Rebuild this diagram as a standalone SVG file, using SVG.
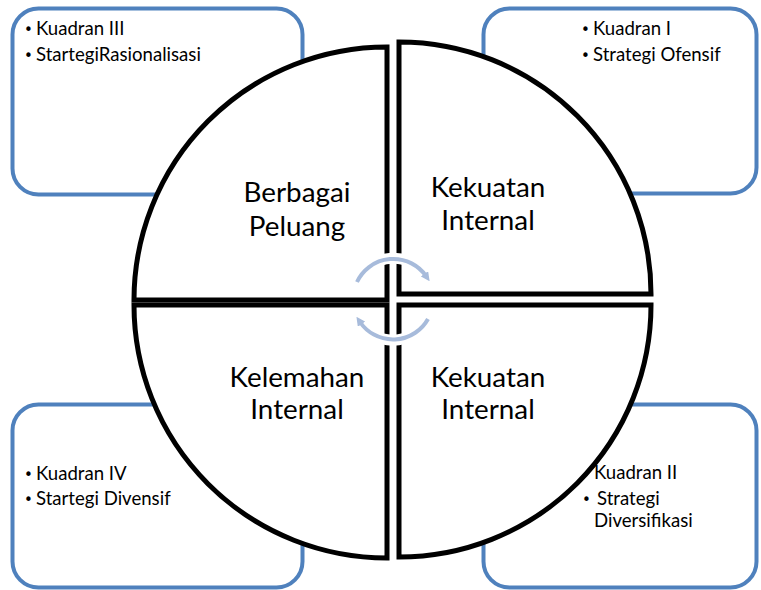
<svg xmlns="http://www.w3.org/2000/svg" width="761" height="590" viewBox="0 0 761 590">
  <defs>
    <style>
      .box { fill: #ffffff; stroke: #4f81bd; stroke-width: 4; }
      .quad { fill: #ffffff; stroke: #000000; stroke-width: 5; stroke-linejoin: miter; }
      .small { font-family: Lato, "Open Sans", sans-serif; font-size: 18.6px; fill: #000000; }
      .dot { font-family: "DejaVu Sans", sans-serif; font-size: 15px; fill: #000000; }
      .big { font-family: Lato, "Open Sans", sans-serif; font-size: 27.8px; fill: #000000; text-anchor: middle; }
      .halo { fill: none; stroke: #ffffff; stroke-width: 11; }
      .cycle { fill: none; stroke: #a7bbdb; stroke-width: 4; }
    </style>
    <marker id="tip" viewBox="0 0 10 10" refX="3" refY="5" markerWidth="9" markerHeight="9" markerUnits="userSpaceOnUse" orient="auto">
      <path d="M0,0 L10,5 L0,10 Z" fill="#a7bbdb"/>
    </marker>
  </defs>
  <rect width="761" height="590" fill="#ffffff"/>

  <!-- outer strategy boxes -->
  <g id="box-kuadran-3">
    <rect class="box" x="12.5" y="8.5" width="290" height="186" rx="26"/>
    <text y="35"><tspan class="dot" x="24">•</tspan><tspan class="small" x="36">Kuadran III</tspan></text>
    <text y="61"><tspan class="dot" x="24">•</tspan><tspan class="small" x="36">StartegiRasionalisasi</tspan></text>
  </g>
  <g id="box-kuadran-1">
    <rect class="box" x="483.5" y="8.5" width="273" height="185" rx="26"/>
    <text y="35"><tspan class="dot" x="581">•</tspan><tspan class="small" x="593">Kuadran I</tspan></text>
    <text y="61"><tspan class="dot" x="581">•</tspan><tspan class="small" x="593">Strategi Ofensif</tspan></text>
  </g>
  <g id="box-kuadran-4">
    <rect class="box" x="12.5" y="404.5" width="290" height="183" rx="26"/>
    <text y="480"><tspan class="dot" x="24">•</tspan><tspan class="small" x="36">Kuadran IV</tspan></text>
    <text y="505"><tspan class="dot" x="24">•</tspan><tspan class="small" x="36">Startegi Divensif</tspan></text>
  </g>
  <g id="box-kuadran-2">
    <rect class="box" x="483.5" y="404.5" width="273" height="183" rx="26"/>
    <text class="small" x="594" y="479">Kuadran II</text>
    <text y="505"><tspan class="dot" x="582">•</tspan><tspan class="small" x="597">Strategi</tspan></text>
    <text class="small" x="594" y="527">Diversifikasi</text>
  </g>

  <!-- circle quadrants -->
  <g id="quad-peluang">
    <path class="quad" d="M387,300 L134,300 A253,253 0 0 1 387,47 Z"/>
    <text class="big" x="297" y="202">Berbagai</text>
    <text class="big" x="297" y="236">Peluang</text>
  </g>
  <g id="quad-kekuatan-atas">
    <path class="quad" d="M399,294 L399,42 A252,252 0 0 1 651,294 Z"/>
    <text class="big" x="488" y="197">Kekuatan</text>
    <text class="big" x="488" y="230">Internal</text>
  </g>
  <g id="quad-kelemahan">
    <path class="quad" d="M387,305 L134,305 A253,253 0 0 0 387,558 Z"/>
    <text class="big" x="297" y="387">Kelemahan</text>
    <text class="big" x="297" y="419">Internal</text>
  </g>
  <g id="quad-kekuatan-bawah">
    <path class="quad" d="M399,305 L651,305 A252,252 0 0 1 399,557 Z"/>
    <text class="big" x="488" y="387">Kekuatan</text>
    <text class="big" x="488" y="419">Internal</text>
  </g>

  <!-- cycle arrows in the middle -->
  <g id="connectors">
    <path class="halo" d="M357,282 A40,40 0 0 1 428,278"/>
    <path class="halo" d="M428,319 A40,40 0 0 1 358,320"/>
    <path class="cycle" d="M357,282 A40,40 0 0 1 426,276" marker-end="url(#tip)"/>
    <path class="cycle" d="M428,319 A40,40 0 0 1 360,322" marker-end="url(#tip)"/>
  </g>
</svg>
